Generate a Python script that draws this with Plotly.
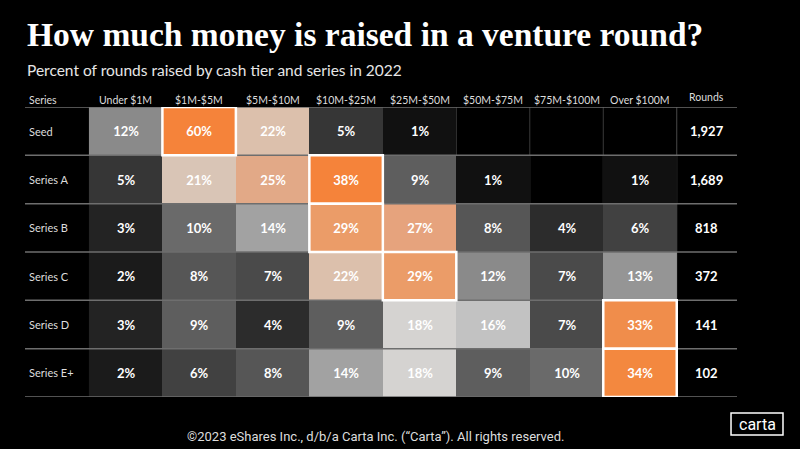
import plotly.graph_objects as go
import numpy as np

# ---- data ----
series = ["Seed", "Series A", "Series B", "Series C", "Series D", "Series E+"]
tiers = ["Under $1M", "$1M-$5M", "$5M-$10M", "$10M-$25M", "$25M-$50M",
         "$50M-$75M", "$75M-$100M", "Over $100M"]
seed = [12, 60, 22, 5, 1, None, None, None]
series_a = [5, 21, 25, 38, 9, 1, None, 1]
series_b = [3, 10, 14, 29, 27, 8, 4, 6]
series_c = [2, 8, 7, 22, 29, 12, 7, 13]
series_d = [3, 9, 4, 9, 18, 16, 7, 33]
series_e = [2, 6, 8, 14, 18, 9, 10, 34]
rounds = ["1,927", "1,689", "818", "372", "141", "102"]

title = "How much money is raised in a venture round?"
subtitle = "Percent of rounds raised by cash tier and series in 2022"
footer = "©2023 eShares Inc., d/b/a Carta Inc. (“Carta”). All rights reserved."

rows = [seed, series_a, series_b, series_c, series_d, series_e]
z = [[np.nan if v is None else v for v in r] for r in rows]
text = [["" if v is None else f"{v}%" for v in r] for r in rows]

# colour mapping (value in % -> colour)
zmax = 60
stops = [(0, "#000000"), (1, "#111111"), (2, "#1b1b1b"), (3, "#232323"),
         (4, "#2c2c2c"), (5, "#363636"), (6, "#414141"), (7, "#4a4a4a"),
         (8, "#565656"), (9, "#5e5e5e"), (10, "#6a6a6a"), (12, "#8a8a8a"),
         (13, "#959595"), (14, "#a2a2a2"), (16, "#c2c2c2"), (18, "#d5d3d1"),
         (21, "#d9c5b6"), (22, "#dcc0ac"), (25, "#e2a987"), (27, "#e6a37d"),
         (29, "#eb9c68"), (33, "#f08d4b"), (34, "#f3883f"), (38, "#f5833a"),
         (60, "#f5833a")]
colorscale = [[s / zmax, c] for s, c in stops]

FONT = "Lato"
fig = go.Figure()
fig.add_trace(go.Heatmap(
    z=z, x=list(range(len(tiers))), y=list(range(len(series))),
    text=text, texttemplate="%{text}",
    textfont=dict(family=FONT, size=13, color="white", weight="bold"),
    colorscale=colorscale, zmin=0, zmax=zmax, showscale=False,
    hoverinfo="skip",
))

ncol = len(tiers)
nrow = len(series)
xl, xr = -1.37, 8.32
span = xr - xl

def xp(v):
    """data x -> paper x"""
    return (v - xl) / span

shapes = []
# faint column separators (visible in empty cells)
for c in range(4, ncol):
    shapes.append(dict(type="line", xref="x", yref="y", x0=c + 0.5, x1=c + 0.5,
                       y0=-0.5, y1=nrow - 0.5, layer="below",
                       line=dict(color="#3a3a3a" if c < ncol - 1 else "#4a4a4a", width=1)))
# row separators
for r in range(nrow + 1):
    shapes.append(dict(type="line", xref="x", yref="y", x0=xl, x1=xr,
                       y0=r - 0.5, y1=r - 0.5,
                       line=dict(color="#6e6e6e", width=1.5)))
# highlight max of each row
for r, row in enumerate(rows):
    vals = [v if v is not None else -1 for v in row]
    c = int(np.argmax(vals))
    shapes.append(dict(type="rect", xref="x", yref="y", x0=c - 0.5, x1=c + 0.5,
                       y0=r - 0.5, y1=r + 0.5,
                       line=dict(color="white", width=2.5)))
# carta logo box
shapes.append(dict(type="rect", xref="paper", yref="paper",
                   x0=0.9916, x1=1.0646, y0=-0.055, y1=-0.131,
                   line=dict(color="white", width=1.5)))

HDR_Y = 1 + 7 / 290
ann = []
ann.append(dict(xref="paper", yref="paper", x=xp(xl + 0.03), y=HDR_Y, text="Series",
                showarrow=False, xanchor="left", yanchor="middle",
                font=dict(family=FONT, size=10.5, color="#dddddd")))
for i, t in enumerate(tiers):
    ann.append(dict(xref="paper", yref="paper", x=xp(i), y=HDR_Y, text=t, showarrow=False,
                    xanchor="center", yanchor="middle",
                    font=dict(family=FONT, size=10.5, color="#dddddd")))
ann.append(dict(xref="paper", yref="paper", x=xp(7.91), y=1 + 10 / 290, text="Rounds",
                showarrow=False, xanchor="center", yanchor="middle",
                font=dict(family=FONT, size=10.5, color="#dddddd")))
for r, s in enumerate(series):
    ann.append(dict(xref="x", yref="y", x=xl + 0.03, y=r, text=s, showarrow=False,
                    xanchor="left", yanchor="middle",
                    font=dict(family=FONT, size=11, color="#dddddd")))
    ann.append(dict(xref="x", yref="y", x=7.91, y=r, text=rounds[r], showarrow=False,
                    xanchor="center", yanchor="middle",
                    font=dict(family=FONT, size=13, color="white", weight="bold")))

ann.append(dict(xref="paper", yref="paper", x=0, y=1.0 + (107 - 35) / 290,
                text=f"<b>{title}</b>", showarrow=False, xanchor="left", yanchor="middle",
                font=dict(family="Liberation Serif", size=33.5, color="white")))
ann.append(dict(xref="paper", yref="paper", x=0, y=1.0 + (107 - 70) / 290,
                text=subtitle, showarrow=False, xanchor="left", yanchor="middle",
                font=dict(family=FONT, size=15.5, color="#e6e6e6")))
ann.append(dict(xref="paper", yref="paper", x=(375 - 25) / 712, y=-(436 - 397) / 290,
                text=footer, showarrow=False, xanchor="center", yanchor="middle",
                font=dict(family="Roboto", size=13, color="#dddddd")))
ann.append(dict(xref="paper", yref="paper", x=(757 - 25) / 712, y=-(424 - 397) / 290,
                text="carta", showarrow=False, xanchor="center", yanchor="middle",
                font=dict(family="Roboto", size=16, color="white")))

fig.update_layout(
    width=800, height=449,
    margin=dict(l=25, r=63, t=107, b=52),
    paper_bgcolor="black", plot_bgcolor="black",
    xaxis=dict(range=[xl, xr], visible=False, fixedrange=True),
    yaxis=dict(range=[nrow - 0.5, -0.5], visible=False, fixedrange=True),
    shapes=shapes, annotations=ann, showlegend=False,
)

fig.write_html("out.html", config={"displayModeBar": False},
               post_script="document.body.style.margin='0';document.body.style.background='black';")
